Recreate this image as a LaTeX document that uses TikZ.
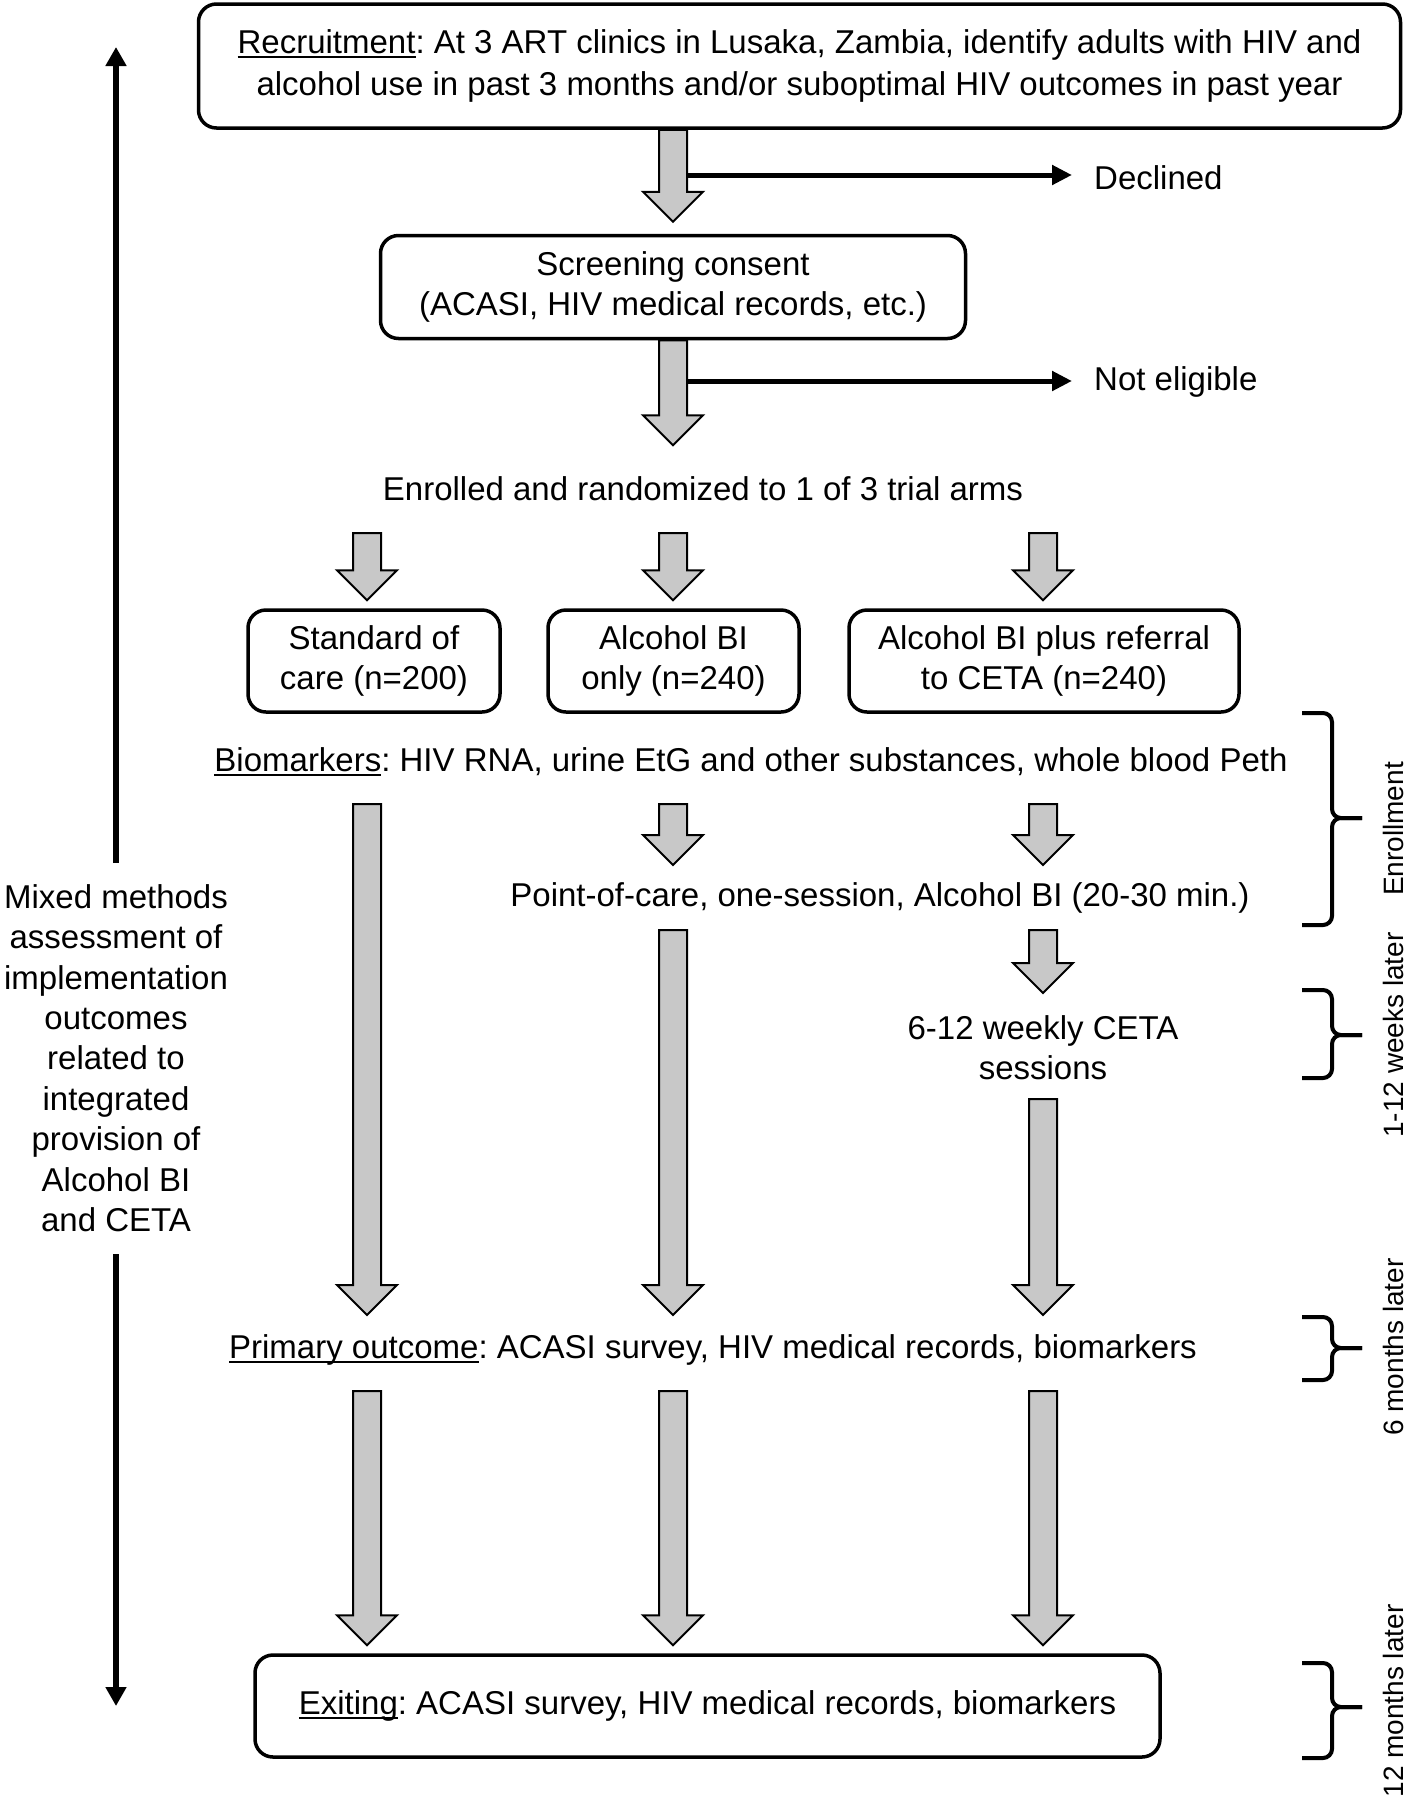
\documentclass[tikz,border=0pt]{standalone}
\usepackage{fontspec}
\setmainfont{Liberation Sans}
\usetikzlibrary{arrows.meta,calc}
\definecolor{arrowgray}{RGB}{200,200,200}
\frenchspacing
\newcommand{\mainfs}{\fontsize{33}{40}\selectfont}
\newcommand{\labfs}{\fontsize{28}{34}\selectfont}
\newsavebox{\ulbox}
\newcommand{\ulx}[1]{\sbox{\ulbox}{#1}\rlap{\rule[-4.5pt]{\wd\ulbox}{2.2pt}}\usebox{\ulbox}}
\pgfdeclarelayer{bg}
\pgfsetlayers{bg,main}
\tikzset{
  box/.style={draw=black, line width=3.5pt, rounded corners=18pt, align=center, inner sep=0pt, font=\mainfs},
  txt/.style={align=center, inner sep=0pt, font=\mainfs},
  lab/.style={rotate=90, anchor=base, inner sep=0pt, font=\labfs},
  garrow/.style={draw=black, line width=2pt, fill=arrowgray, line join=miter},
  thinarrow/.style={line width=5pt, -{Triangle[length=20pt,width=19pt]}},
  leftarrow/.style={line width=6.5pt, -{Triangle[length=19pt,width=20pt]}},
  bracestyle/.style={line width=4pt, rounded corners=9pt},
}
\newcommand{\garr}[2]{\begin{pgfonlayer}{bg}\draw[garrow] let \p1=(#1), \p2=(#2) in
  (\x1-14pt,\y1) -- (\x1-14pt,\y2+30pt) -- (\x1-30pt,\y2+30pt) -- (\x1,\y2) --
  (\x1+30pt,\y2+30pt) -- (\x1+14pt,\y2+30pt) -- (\x1+14pt,\y1) -- cycle;\end{pgfonlayer}}
\newcommand{\brk}[3]{% top, bottom, mid
  \draw[bracestyle] (1302,#1) -- (1332,#1) -- (1332,#3) -- (1362,#3);
  \draw[bracestyle] (1302,#2) -- (1332,#2) -- (1332,#3) -- (1362,#3);}
\begin{document}
\begin{tikzpicture}[x=1pt,y=-1pt]
\useasboundingbox (0,0) rectangle (1407,1800);
% columns
\coordinate (cL) at (367,0);
\coordinate (cM) at (673,0);
\coordinate (cR) at (1043,0);

% boxes and texts
\node[box, minimum width=1202pt, minimum height=124pt, font={\fontsize{33}{42}\selectfont}] (rec) at (799.5,66)
  {\ulx{Recruitment}: At 3 ART clinics in Lusaka, Zambia, identify adults with HIV and\\
   alcohol use in past 3 months and/or suboptimal HIV outcomes in past year};
\node[box, minimum width=585pt, minimum height=103pt] (scr) at (673,287)
  {Screening consent\\(ACASI, HIV medical records, etc.)};
\node[txt, anchor=west] (dec) at (1094,178) {Declined};
\node[txt, anchor=west] (nel) at (1094,382) {Not eligible};
\node[txt] (enr) at (703,489) {Enrolled and randomized to 1 of 3 trial arms};
\node[box, minimum width=252pt, minimum height=102pt] (soc) at (374,661) {Standard of\\care (n=200)};
\node[box, minimum width=251pt, minimum height=102pt] (abi) at (673.5,661) {Alcohol BI\\only (n=240)};
\node[box, minimum width=390pt, minimum height=102pt] (abip) at (1044,661) {Alcohol BI plus referral\\to CETA (n=240)};
\node[txt] (bio) at (751,762) {\ulx{Biomarkers}: HIV RNA, urine EtG and other substances, whole blood Peth};
\node[txt] (poc) at (880,898) {Point-of-care, one-session, Alcohol BI (20-30 min.)};
\node[txt] (ceta) at (1043,1048) {6-12 weekly CETA\\sessions};
\node[txt] (prim) at (713,1350) {\ulx{Primary outcome}: ACASI survey, HIV medical records, biomarkers};
\node[box, minimum width=905pt, minimum height=102pt] (exit) at (707.5,1706)
  {\ulx{Exiting}: ACASI survey, HIV medical records, biomarkers};
\node[txt, font={\fontsize{33}{40.4}\selectfont}] (mm) at (116,1058)
  {Mixed methods\\assessment of\\implementation\\outcomes\\related to\\integrated\\provision of\\Alcohol BI\\and CETA};

% gray block arrows
\garr{rec.south -| cM}{$(scr.north -| cM)+(0,-12)$}
\garr{scr.south -| cM}{$(scr.south -| cM)+(0,105)$}
\coordinate (aL) at (367,533); \coordinate (aM) at (673,533); \coordinate (aR) at (1043,533);
\garr{aL}{$(soc.north -| cL)+(0,-8)$}
\garr{aM}{$(abi.north -| cM)+(0,-8)$}
\garr{aR}{$(abip.north -| cR)+(0,-8)$}
\coordinate (bL) at (367,804); \coordinate (bM) at (673,804); \coordinate (bR) at (1043,804);
\coordinate (pL) at (367,1315); \coordinate (pM) at (673,1315); \coordinate (pR) at (1043,1315);
\garr{bL}{pL}
\garr{bM}{673,865}
\garr{bR}{1043,865}
\coordinate (qM) at (673,930); \coordinate (qR) at (1043,930);
\garr{qM}{pM}
\garr{qR}{1043,993}
\coordinate (sR) at (1043,1099);
\garr{sR}{pR}
\coordinate (eL) at (367,1391); \coordinate (eM) at (673,1391); \coordinate (eR) at (1043,1391);
\garr{eL}{$(exit.north -| cL)+(0,-8)$}
\garr{eM}{$(exit.north -| cM)+(0,-8)$}
\garr{eR}{$(exit.north -| cR)+(0,-8)$}

% thin side arrows
\coordinate (d0) at (687,175); \coordinate (d1) at (1072,175);
\draw[thinarrow] (d0) -- (d1);
\coordinate (n0) at (687,381); \coordinate (n1) at (1072,381);
\draw[thinarrow] (n0) -- (n1);

% left double arrow
\coordinate (lt0) at (116,863); \coordinate (lt1) at (116,47);
\coordinate (lb0) at (116,1254); \coordinate (lb1) at (116,1706);
\draw[leftarrow] (lt0) -- (lt1);
\draw[leftarrow] (lb0) -- (lb1);

% brackets
\brk{713}{925}{818}
\brk{990}{1078}{1035}
\brk{1317}{1380}{1348}
\brk{1663}{1758}{1707}

% time labels
\node[lab] (l1) at (1403,829) {Enrollment};
\node[lab] (l2) at (1403,1035) {1-12 weeks later};
\node[lab] (l3) at (1403,1347) {6 months later};
\node[lab] (l4) at (1403,1701) {12 months later};
\end{tikzpicture}
\end{document}
